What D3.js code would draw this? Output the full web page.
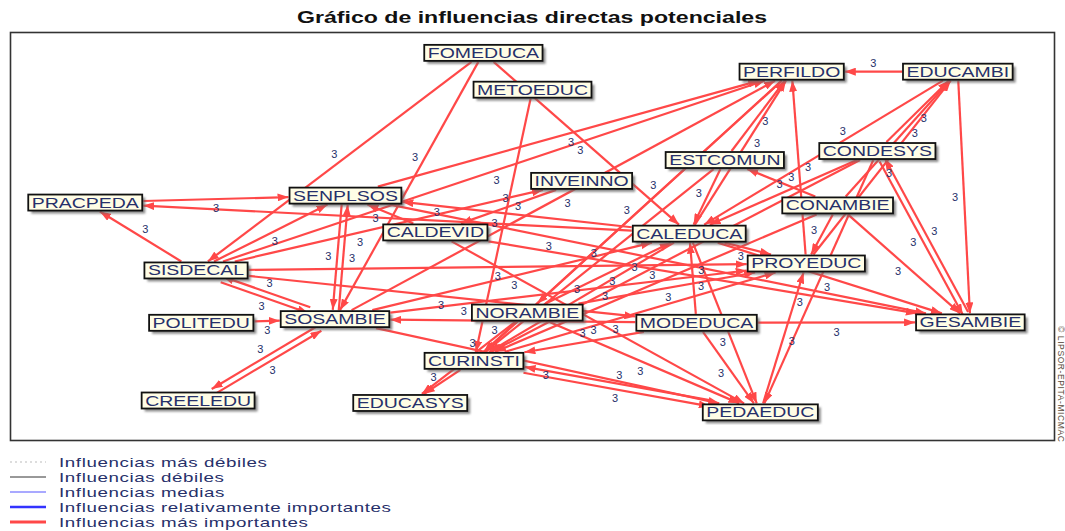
<!DOCTYPE html>
<html lang="es">
<head>
<meta charset="UTF-8">
<title>Gráfico de influencias directas potenciales</title>
<style>
  body { margin: 0; background: #fff; }
  svg { display: block; font-family: "Liberation Sans", Arial, sans-serif; }
</style>
</head>
<body>
<script src="https://cdnjs.cloudflare.com/ajax/libs/d3/7.8.5/d3.min.js"></script>
<script>
const width = 1065, height = 531;

// variables and their place on the map (0-100 map units)
const nodeNames = ["FOMEDUCA", "METOEDUC", "PERFILDO", "EDUCAMBI", "ESTCOMUN", "CONDESYS",
  "INVEINNO", "PRACPEDA", "SENPLSOS", "CONAMBIE", "CALDEVID", "CALEDUCA", "PROYEDUC",
  "SISDECAL", "NORAMBIE", "POLITEDU", "SOSAMBIE", "MODEDUCA", "GESAMBIE", "CURINSTI",
  "CREELEDU", "EDUCASYS", "PEDAEDUC"];
const nodeX = [45.3, 50.0, 74.8, 90.7, 68.4, 83.0, 54.7, 7.2, 32.1, 79.2, 40.7, 65.0, 76.2,
  17.8, 49.5, 18.3, 31.1, 65.7, 91.9, 44.4, 18.0, 38.3, 71.8];
const nodeY = [5.1, 14.1, 9.7, 9.7, 31.3, 29.1, 36.4, 41.7, 40.0, 42.4, 49.0, 49.3, 56.6,
  58.3, 68.6, 71.1, 70.2, 71.1, 71.0, 80.4, 90.1, 90.7, 93.0];

// influences: from -> to, with their value
const edgeFrom = ["PRACPEDA", "CALEDUCA", "SISDECAL", "FOMEDUCA", "FOMEDUCA", "FOMEDUCA",
  "METOEDUC", "SENPLSOS", "SISDECAL", "SOSAMBIE", "ESTCOMUN", "CALEDUCA", "PROYEDUC",
  "EDUCAMBI", "PERFILDO", "PERFILDO", "EDUCAMBI", "EDUCAMBI", "CONAMBIE", "CONDESYS",
  "PROYEDUC", "CONDESYS", "CONDESYS", "GESAMBIE", "CONDESYS", "CONDESYS", "CONAMBIE",
  "CONAMBIE", "CONAMBIE", "CONAMBIE", "ESTCOMUN", "ESTCOMUN", "SISDECAL", "INVEINNO",
  "CALDEVID", "CALDEVID", "CALDEVID", "SENPLSOS", "SOSAMBIE", "SENPLSOS", "CALEDUCA",
  "SISDECAL", "SISDECAL", "SISDECAL", "SISDECAL", "SOSAMBIE", "POLITEDU", "CREELEDU",
  "SOSAMBIE", "SOSAMBIE", "SOSAMBIE", "NORAMBIE", "NORAMBIE", "NORAMBIE", "NORAMBIE",
  "MODEDUCA", "MODEDUCA", "MODEDUCA", "MODEDUCA", "MODEDUCA", "CALEDUCA", "CALEDUCA",
  "CALEDUCA", "CALEDUCA", "SOSAMBIE", "PEDAEDUC", "PEDAEDUC", "CURINSTI", "CURINSTI",
  "NORAMBIE", "CURINSTI"];
const edgeTo = ["SENPLSOS", "PRACPEDA", "PRACPEDA", "SISDECAL", "SOSAMBIE", "CALEDUCA",
  "CURINSTI", "PERFILDO", "PERFILDO", "PERFILDO", "PERFILDO", "PERFILDO", "PERFILDO",
  "PERFILDO", "CURINSTI", "NORAMBIE", "CALEDUCA", "GESAMBIE", "EDUCAMBI", "EDUCAMBI",
  "EDUCAMBI", "CALEDUCA", "GESAMBIE", "CONDESYS", "PEDAEDUC", "CURINSTI", "ESTCOMUN",
  "PROYEDUC", "GESAMBIE", "CURINSTI", "CALEDUCA", "CURINSTI", "INVEINNO", "CALDEVID",
  "SENPLSOS", "PEDAEDUC", "GESAMBIE", "SOSAMBIE", "SENPLSOS", "GESAMBIE", "SENPLSOS",
  "SENPLSOS", "PROYEDUC", "MODEDUCA", "SOSAMBIE", "SISDECAL", "SOSAMBIE", "SOSAMBIE",
  "CREELEDU", "PEDAEDUC", "CALEDUCA", "CURINSTI", "CALEDUCA", "PROYEDUC", "PEDAEDUC",
  "GESAMBIE", "PEDAEDUC", "CALEDUCA", "CURINSTI", "SOSAMBIE", "GESAMBIE", "PROYEDUC",
  "PEDAEDUC", "CURINSTI", "PROYEDUC", "PROYEDUC", "CURINSTI", "PEDAEDUC", "EDUCASYS",
  "EDUCASYS", "PROYEDUC"];
const edgeValue = [3, 3, 3, 3, 3, 3, 3, 3, 3, 3, 3, 3, 3, 3, 3, 3, 3, 3, 3, 3, 3, 3, 3, 3,
  3, 3, 3, 3, 3, 3, 3, 3, 3, 3, 3, 3, 3, 3, 3, 3, 3, 3, 3, 3, 3, 3, 3, 3, 3, 3, 3, 3, 3, 3,
  3, 3, 3, 3, 3, 3, 3, 3, 3, 3, 3, 3, 3, 3, 3, 3, 3];

const legendLabels = ["Influencias más débiles", "Influencias débiles", "Influencias medias",
  "Influencias relativamente importantes", "Influencias más importantes"];

const RED = "#ff4848";
const INK = "#26306a";
const STRETCH = 1.39;

const svg = d3.select("body").append("svg")
    .attr("width", width)
    .attr("height", height);

const x = d3.scaleLinear().domain([0, 100]).range([10, 1055]);
const y = d3.scaleLinear().domain([0, 100]).range([32, 441]);

const defs = svg.append("defs");
defs.append("filter").attr("id", "shadow")
    .append("feGaussianBlur").attr("stdDeviation", 1);
defs.append("marker")
    .attr("id", "arrow")
    .attr("markerUnits", "userSpaceOnUse")
    .attr("viewBox", "0 0 11 8")
    .attr("refX", 11).attr("refY", 4)
    .attr("markerWidth", 11).attr("markerHeight", 8)
    .attr("orient", "auto")
  .append("path")
    .attr("d", "M0,0 L11,4 L0,8 Z")
    .attr("fill", RED);

// title
svg.append("text")
    .attr("transform", "translate(532,23) scale(1.36,1)")
    .attr("text-anchor", "middle")
    .attr("font-size", 17)
    .attr("font-weight", "bold")
    .attr("fill", "#111")
    .text("Gráfico de influencias directas potenciales");

// frame
svg.append("rect")
    .attr("x", 10.5).attr("y", 32.5)
    .attr("width", 1044).attr("height", 408)
    .attr("fill", "#fff")
    .attr("stroke", "#333")
    .attr("stroke-width", 1.6);

const edgeLayer = svg.append("g");
const labelLayer = svg.append("g");
const nodeLayer = svg.append("g");

// nodes first, so the box widths are known for the edges
let nodes = nodeNames.map((name, i) => ({ name, cx: x(nodeX[i]), cy: y(nodeY[i]) }));
let byName = new Map(nodes.map(n => [n.name, n]));

let ng = nodeLayer.selectAll("g.node")
    .data(nodes)
    .enter()
    .append("g")
    .attr("class", "node");

ng.each(function(d) {
    let g = d3.select(this);
    let shadow = g.append("rect");
    let box = g.append("rect");
    let t = g.append("text")
        .attr("transform", `translate(${d.cx},${d.cy + 5}) scale(${STRETCH},1)`)
        .attr("text-anchor", "middle")
        .attr("font-size", 14)
        .attr("fill", INK)
        .text(d.name);
    d.w = t.node().getComputedTextLength() * STRETCH + 7;
    d.h = 16;
    shadow.attr("x", d.cx - d.w / 2 + 3).attr("y", d.cy - d.h / 2 + 3)
        .attr("width", d.w).attr("height", d.h)
        .attr("fill", "#666").attr("opacity", 0.75)
        .attr("filter", "url(#shadow)");
    box.attr("x", d.cx - d.w / 2).attr("y", d.cy - d.h / 2)
        .attr("width", d.w).attr("height", d.h)
        .attr("fill", "#fffde6")
        .attr("stroke", "#111")
        .attr("stroke-width", 1.8);
});

function clip(n, px, py, dx, dy) {
    let hw = n.w / 2 + 1, hh = n.h / 2 + 1;
    let t = Math.min(dx ? hw / Math.abs(dx) : Infinity, dy ? hh / Math.abs(dy) : Infinity);
    return [px + dx * t, py + dy * t];
}

let pairs = new Set(edgeFrom.map((f, i) => f + "|" + edgeTo[i]));
let edges = edgeFrom.map((f, i) => {
    let a = byName.get(f), b = byName.get(edgeTo[i]);
    let dx = b.cx - a.cx, dy = b.cy - a.cy;
    let len = Math.hypot(dx, dy);
    let ux = dx / len, uy = dy / len;
    let nx = -uy, ny = ux;
    let off = pairs.has(edgeTo[i] + "|" + f) ? 3 : 0;
    let ax = a.cx + nx * off, ay = a.cy + ny * off;
    let bx = b.cx + nx * off, by = b.cy + ny * off;
    let p1 = clip(a, ax, ay, dx, dy);
    let p2 = clip(b, bx, by, -dx, -dy);
    return { p1, p2, nx, ny, value: edgeValue[i] };
});

edgeLayer.selectAll("line")
    .data(edges)
    .enter()
    .append("line")
        .attr("x1", d => d.p1[0]).attr("y1", d => d.p1[1])
        .attr("x2", d => d.p2[0]).attr("y2", d => d.p2[1])
        .attr("stroke", RED)
        .attr("stroke-width", 2.2)
        .attr("marker-end", "url(#arrow)");

// place each "3" beside its edge, sliding along it until it clears the boxes
function hitsBox(px, py) {
    return nodes.some(n => Math.abs(px - n.cx) < n.w / 2 + 6 && Math.abs(py - n.cy) < n.h / 2 + 7);
}
let placed = [];
edges.forEach(d => {
    let tries = [0.5, 0.4, 0.6, 0.3, 0.7, 0.25, 0.75];
    let best = null;
    for (let side of [1, -1]) {
        for (let t of tries) {
            let px = d.p1[0] + (d.p2[0] - d.p1[0]) * t + d.nx * 9 * side;
            let py = d.p1[1] + (d.p2[1] - d.p1[1]) * t + d.ny * 9 * side;
            let clash = placed.some(p => Math.abs(p[0] - px) < 9 && Math.abs(p[1] - py) < 10);
            if (!hitsBox(px, py) && !clash) { best = [px, py]; break; }
        }
        if (best) break;
    }
    if (!best) best = [(d.p1[0] + d.p2[0]) / 2 + d.nx * 9, (d.p1[1] + d.p2[1]) / 2 + d.ny * 9];
    placed.push(best);
    d.lx = best[0];
    d.ly = best[1];
});

labelLayer.selectAll("text")
    .data(edges)
    .enter()
    .append("text")
        .attr("x", d => d.lx)
        .attr("y", d => d.ly + 4)
        .attr("text-anchor", "middle")
        .attr("font-size", 11)
        .attr("fill", INK)
        .text(d => d.value);

// credit on the right edge
svg.append("text")
    .attr("transform", "translate(1058,326) rotate(90)")
    .attr("font-size", 8.5)
    .attr("letter-spacing", 0.6)
    .attr("fill", "#5a4a3a")
    .text("© LIPSOR-EPITA-MICMAC");

// legend
let legendStroke = ["#bbbbbb", "#333333", "#5555ff", "#3333ff", RED];
let legendWidth = [1, 1, 1.2, 2.5, 3];
let legendDash = ["2,3", null, null, null, null];
let lg = svg.append("g");
legendLabels.forEach((label, i) => {
    let yy = 462 + i * 15;
    lg.append("line")
        .attr("x1", 10).attr("x2", 46)
        .attr("y1", yy).attr("y2", yy)
        .attr("stroke", legendStroke[i])
        .attr("stroke-width", legendWidth[i])
        .attr("stroke-dasharray", legendDash[i]);
    lg.append("text")
        .attr("transform", `translate(59,${yy + 5}) scale(1.5,1)`)
        .attr("font-size", 12.5)
        .attr("letter-spacing", 0.4)
        .attr("fill", INK)
        .text(label);
});
</script>
</body>
</html>
